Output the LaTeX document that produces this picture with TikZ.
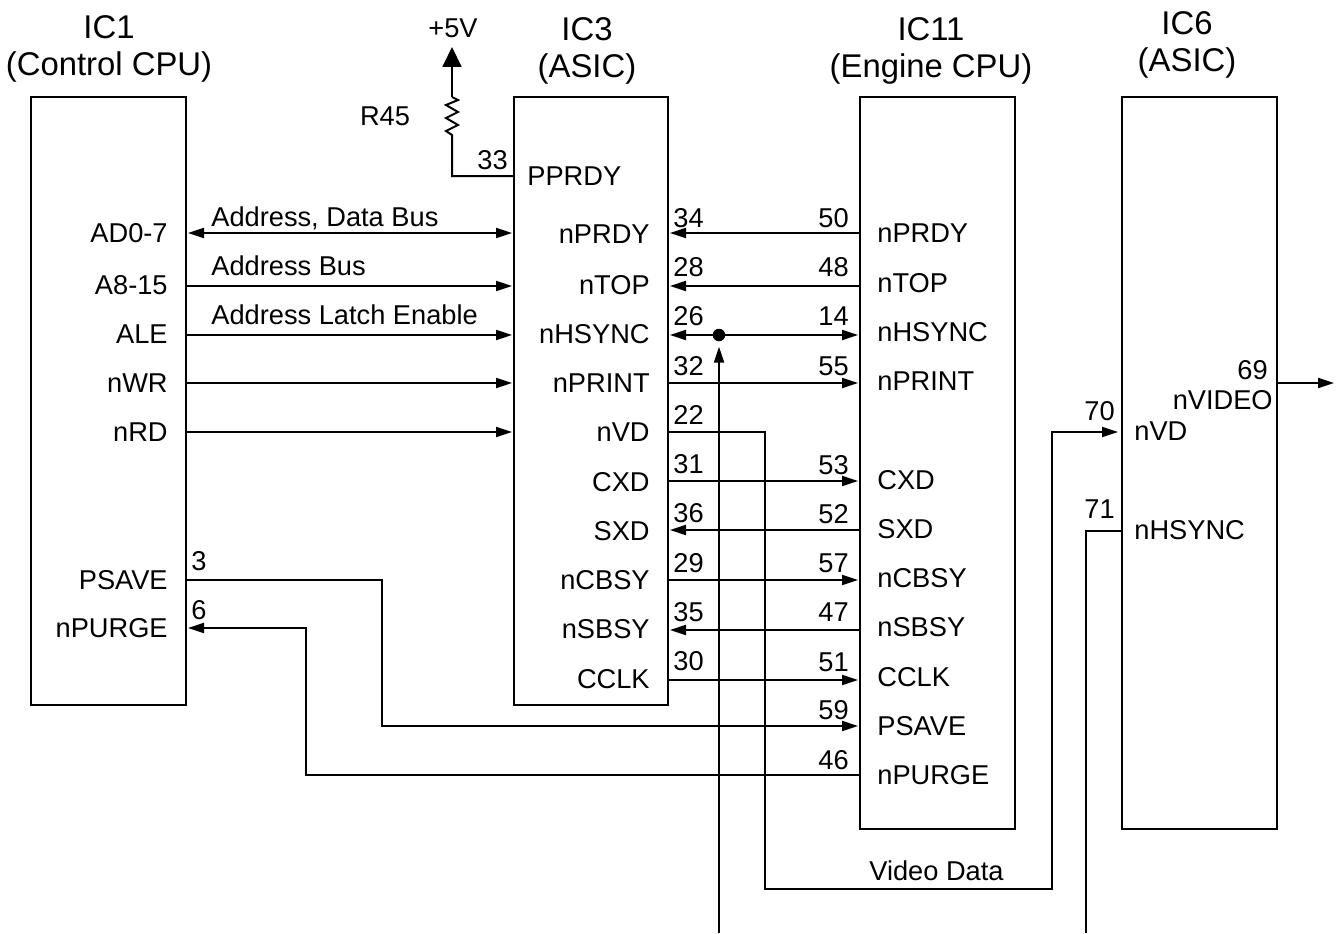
\documentclass[tikz,border=0pt]{standalone}
\usepackage{fontspec}
\setmainfont{Liberation Sans}
\usetikzlibrary{arrows.meta}

\tikzset{
  chip/.style={draw, line width=.04cm, minimum width=3.1cm, inner sep=0pt},
  wire/.style={line width=.04cm, line join=miter},
  arrowto/.style={wire, -{Triangle[length=.32cm, width=.2cm]}, shorten >=.04cm},
  arrowboth/.style={wire, {Triangle[length=.32cm, width=.2cm]}-{Triangle[length=.32cm, width=.2cm]}, shorten >=.04cm, shorten <=.04cm},
  pinname/.style={inner sep=0pt, font=\fontsize{15.5}{18}\selectfont, text height=11.1pt, text depth=0pt},
  heading/.style={inner sep=0pt, align=center, font=\fontsize{18.7}{21}\selectfont}
}

\begin{document}
\begin{tikzpicture}[x=.02cm, y=-.02cm]
\useasboundingbox (0, 0) rectangle (1337, 933);

% chips
\node [chip, minimum height=12.16cm] (ic1) at (108.5, 401) {};
\node [chip, minimum height=12.16cm] (ic3) at (591, 401) {};
\node [chip, minimum height=14.64cm] (ic11) at (937.5, 463) {};
\node [chip, minimum height=14.64cm] (ic6) at (1199.5, 463) {};

\node [heading] (ic1title) at (109, 49) {IC1\\(Control CPU)};
\node [heading] (ic3title) at (587, 51) {IC3\\(ASIC)};
\node [heading] (ic11title) at (931, 51) {IC11\\(Engine CPU)};
\node [heading] (ic6title) at (1187, 45) {IC6\\(ASIC)};

% IC1 pins
\node [pinname, anchor=east] (ic1ad) at (168, 233) {AD0-7};
\node [pinname, anchor=east] (ic1a) at (168, 285) {A8-15};
\node [pinname, anchor=east] (ic1ale) at (168, 334) {ALE};
\node [pinname, anchor=east] (ic1wr) at (168, 383) {nWR};
\node [pinname, anchor=east] (ic1rd) at (168, 432) {nRD};
\node [pinname, anchor=east] (ic1psave) at (168, 580) {PSAVE};
\node [pinname, anchor=east] (ic1purge) at (168, 628) {nPURGE};
\node [pinname, anchor=west] (num3) at (191, 561) {3};
\node [pinname, anchor=west] (num6) at (191, 610) {6};

% IC3 pins
\node [pinname, anchor=west] (ic3pprdy) at (527, 176) {PPRDY};
\node [pinname, anchor=east] (ic3prdy) at (650, 234) {nPRDY};
\node [pinname, anchor=east] (ic3top) at (650, 285) {nTOP};
\node [pinname, anchor=east] (ic3hsync) at (650, 334) {nHSYNC};
\node [pinname, anchor=east] (ic3print) at (650, 383) {nPRINT};
\node [pinname, anchor=east] (ic3vd) at (650, 432) {nVD};
\node [pinname, anchor=east] (ic3cxd) at (650, 482) {CXD};
\node [pinname, anchor=east] (ic3sxd) at (650, 531) {SXD};
\node [pinname, anchor=east] (ic3cbsy) at (650, 580) {nCBSY};
\node [pinname, anchor=east] (ic3sbsy) at (650, 629) {nSBSY};
\node [pinname, anchor=east] (ic3cclk) at (650, 679) {CCLK};
\node [pinname, anchor=east] (num33) at (508, 160) {33};
\node [pinname, anchor=west] (num34) at (673, 218) {34};
\node [pinname, anchor=west] (num28) at (673, 267) {28};
\node [pinname, anchor=west] (num26) at (673, 316) {26};
\node [pinname, anchor=west] (num32) at (673, 366) {32};
\node [pinname, anchor=west] (num22) at (673, 415) {22};
\node [pinname, anchor=west] (num31) at (673, 464) {31};
\node [pinname, anchor=west] (num36) at (673, 513) {36};
\node [pinname, anchor=west] (num29) at (673, 563) {29};
\node [pinname, anchor=west] (num35) at (673, 612) {35};
\node [pinname, anchor=west] (num30) at (673, 661) {30};

% IC11 pins
\node [pinname, anchor=west] (ic11prdy) at (877, 233) {nPRDY};
\node [pinname, anchor=west] (ic11top) at (877, 283) {nTOP};
\node [pinname, anchor=west] (ic11hsync) at (877, 332) {nHSYNC};
\node [pinname, anchor=west] (ic11print) at (877, 381) {nPRINT};
\node [pinname, anchor=west] (ic11cxd) at (877, 480) {CXD};
\node [pinname, anchor=west] (ic11sxd) at (877, 529) {SXD};
\node [pinname, anchor=west] (ic11cbsy) at (877, 578) {nCBSY};
\node [pinname, anchor=west] (ic11sbsy) at (877, 627) {nSBSY};
\node [pinname, anchor=west] (ic11cclk) at (877, 677) {CCLK};
\node [pinname, anchor=west] (ic11psave) at (877, 726) {PSAVE};
\node [pinname, anchor=west] (ic11purge) at (877, 775) {nPURGE};
\node [pinname, anchor=east] (num50) at (849, 218) {50};
\node [pinname, anchor=east] (num48) at (849, 267) {48};
\node [pinname, anchor=east] (num14) at (849, 316) {14};
\node [pinname, anchor=east] (num55) at (849, 366) {55};
\node [pinname, anchor=east] (num53) at (849, 465) {53};
\node [pinname, anchor=east] (num52) at (849, 514) {52};
\node [pinname, anchor=east] (num57) at (849, 563) {57};
\node [pinname, anchor=east] (num47) at (849, 612) {47};
\node [pinname, anchor=east] (num51) at (849, 662) {51};
\node [pinname, anchor=east] (num59) at (849, 710) {59};
\node [pinname, anchor=east] (num46) at (849, 760) {46};

% IC6 pins
\node [pinname, anchor=west] (ic6vd) at (1134, 431) {nVD};
\node [pinname, anchor=west] (ic6hsync) at (1134, 530) {nHSYNC};
\node [pinname, anchor=east] (ic6video) at (1273, 400) {nVIDEO};
\node [pinname, anchor=east] (num70) at (1115, 411) {70};
\node [pinname, anchor=east] (num71) at (1115, 509) {71};
\node [pinname, anchor=east] (num69) at (1268, 370) {69};

% other texts
\node [pinname, anchor=west] (busdata) at (211, 217) {Address, Data Bus};
\node [pinname, anchor=west] (busaddr) at (211, 266) {Address Bus};
\node [pinname, anchor=west] (busale) at (211, 315) {Address Latch Enable};
\node [pinname, anchor=west] (videodata) at (869, 871) {Video Data};
\node [pinname] (r45) at (385, 116) {R45};
\node [pinname] (vcc) at (453, 28) {+5V};

% connection points
\coordinate (l1) at (186, 233);
\coordinate (l2) at (186, 286);
\coordinate (l3) at (186, 335);
\coordinate (l4) at (186, 383);
\coordinate (l5) at (186, 432);
\coordinate (l6) at (186, 580);
\coordinate (l7) at (186, 628);
\coordinate (m1) at (514, 233);
\coordinate (m2) at (514, 286);
\coordinate (m3) at (514, 335);
\coordinate (m4) at (514, 383);
\coordinate (m5) at (514, 432);
\coordinate (mp) at (514, 176);
\coordinate (rbot) at (452, 135);
\coordinate (rtop) at (452, 97);
\coordinate (vcctip) at (452, 47);
\coordinate (r1) at (668, 233);
\coordinate (r2) at (668, 286);
\coordinate (r3) at (668, 335);
\coordinate (r4) at (668, 383);
\coordinate (r5) at (668, 432);
\coordinate (r6) at (668, 481);
\coordinate (r7) at (668, 530);
\coordinate (r8) at (668, 580);
\coordinate (r9) at (668, 630);
\coordinate (r10) at (668, 680);
\coordinate (e1) at (860, 233);
\coordinate (e2) at (860, 286);
\coordinate (e3) at (860, 335);
\coordinate (e4) at (860, 383);
\coordinate (e6) at (860, 481);
\coordinate (e7) at (860, 530);
\coordinate (e8) at (860, 580);
\coordinate (e9) at (860, 630);
\coordinate (e10) at (860, 680);
\coordinate (e11) at (860, 726);
\coordinate (e12) at (860, 775);
\coordinate (v1) at (1120, 432);
\coordinate (v2) at (1122, 531);
\coordinate (v2end) at (1086, 933);
\coordinate (vout) at (1277, 383);
\coordinate (voutend) at (1336, 383);
\coordinate (hsyncend) at (719, 933);

% left side
\draw [arrowboth] (l1) -- (m1);
\draw [arrowto] (l2) -- (m2);
\draw [arrowto] (l3) -- (m3);
\draw [arrowto] (l4) -- (m4);
\draw [arrowto] (l5) -- (m5);

% PPRDY pull-up
\draw [wire] (mp) -- (452, 176) -- (rbot) -- (446, 131) -- (458, 125) -- (446, 118) -- (458, 112) -- (446, 105) -- (458, 100) -- (rtop);
\draw [wire, -{Triangle[length=.4cm, width=.38cm]}] (rtop) -- (vcctip);

% right side of IC3
\draw [arrowto] (e1) -- (r1);
\draw [arrowto] (e2) -- (r2);
\draw [arrowboth] (r3) -- (e3);
\draw [arrowto] (r4) -- (e4);
\draw [arrowto] (r6) -- (e6);
\draw [arrowto] (e7) -- (r7);
\draw [arrowto] (r8) -- (e8);
\draw [arrowto] (e9) -- (r9);
\draw [arrowto] (r10) -- (e10);

% long runs
\draw [arrowto] (l6) -- (382, 580) -- (382, 726) -- (e11);
\draw [arrowto] (e12) -- (306, 775) -- (306, 628) -- (l7);
\draw [arrowto] (r5) -- (765, 432) -- (765, 889) -- (1052, 889) -- (1052, 432) -- (v1);
\draw [wire] (v2) -- (1086, 531) -- (v2end);
\draw [arrowto] (vout) -- (voutend);

\node [circle, fill, inner sep=0pt, minimum size=.25cm] (hsyncdot) at (719, 335) {};
\draw [arrowto, shorten >=.1cm] (hsyncend) -- (hsyncdot);

\end{tikzpicture}
\end{document}
